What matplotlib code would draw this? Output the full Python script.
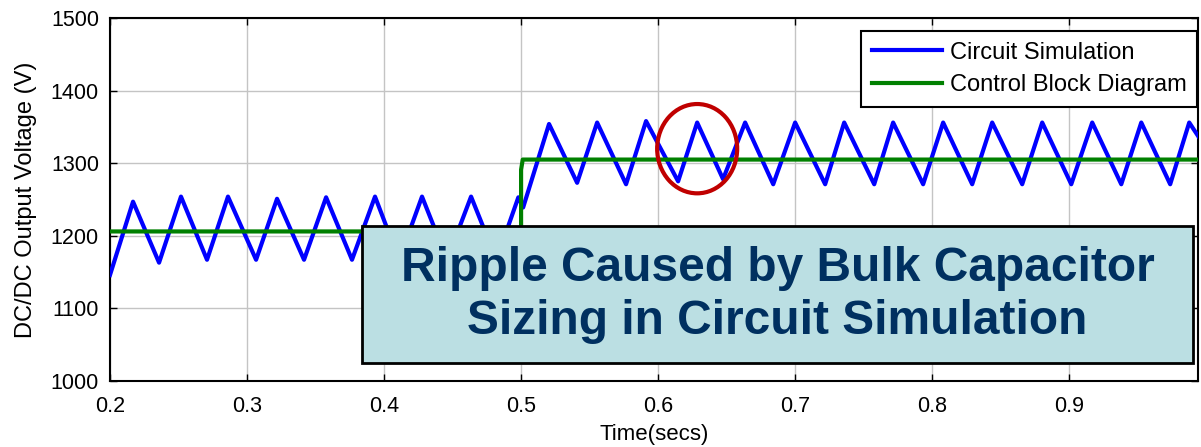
import numpy as np
import matplotlib
matplotlib.use("Agg")
import matplotlib.pyplot as plt
from matplotlib.patches import Ellipse, Rectangle

plt.rcParams['font.family'] = ['Liberation Sans', 'DejaVu Sans']

# vertices of the circuit simulation trace
sim_t = [0.2, 0.2168, 0.2358, 0.2518, 0.2708, 0.2861, 0.3066, 0.3219, 0.3416, 0.3577,
         0.3766, 0.3934, 0.4110, 0.4277, 0.4460, 0.4635, 0.4820, 0.4980, 0.5015, 0.5204,
         0.5409, 0.5555, 0.5766, 0.5912, 0.6146, 0.6285, 0.6474, 0.6635, 0.6840, 0.7000,
         0.7219, 0.7358, 0.7577, 0.7715, 0.7934, 0.8080, 0.8292, 0.8438, 0.8657, 0.8803,
         0.9015, 0.9168, 0.9380, 0.9526, 0.9737, 0.9876, 0.9956]
sim_v = [1146, 1247, 1163, 1254, 1167, 1254, 1167, 1251, 1167, 1253,
         1167, 1254, 1167, 1254, 1167, 1254, 1167, 1253, 1239, 1354,
         1273, 1356, 1271, 1358, 1275, 1356, 1278, 1356, 1271, 1356,
         1271, 1356, 1271, 1356, 1271, 1356, 1271, 1356, 1271, 1356,
         1271, 1356, 1271, 1356, 1271, 1356, 1333]

# control block diagram output
ctl_t = [0.2, 0.5, 0.5, 0.5012, 0.9956]
ctl_v = [1206, 1206, 1291, 1305, 1305]

x_ticks = [0.2, 0.3, 0.4, 0.5, 0.6, 0.7, 0.8, 0.9]
y_ticks = [1000, 1100, 1200, 1300, 1400, 1500]
labels = ['Circuit Simulation', 'Control Block Diagram']
note = 'Ripple Caused by Bulk Capacitor\nSizing in Circuit Simulation'

fig = plt.figure(figsize=(12.01, 4.47), dpi=100)
ax = fig.add_axes([110/1201, 1-381/447, 1088/1201, 363/447])

ax.plot(sim_t, sim_v, color='#0000FF', lw=3.0, label=labels[0], zorder=3)
ax.plot(ctl_t, ctl_v, color='#008000', lw=3.0, label=labels[1], zorder=4)

ax.set_xlim(0.2, 0.994)
ax.set_ylim(1000, 1500)
ax.set_xticks(x_ticks)
ax.set_yticks(y_ticks)
ax.set_xticklabels(['%g' % v for v in x_ticks])
ax.grid(True, color='#C4C4C4', lw=1.0)
ax.set_axisbelow(True)
ax.tick_params(direction='in', top=True, right=True, length=5, width=1,
               labelsize=15.5, pad=8)
ax.tick_params(axis='x', pad=10.5)
for s in ax.spines.values():
    s.set_linewidth(1.5)

ax.set_xlabel('Time(secs)', fontsize=16, labelpad=5)
ax.set_ylabel('DC/DC Output Voltage (V)', fontsize=17, labelpad=10)

leg = ax.legend(loc='upper right', bbox_to_anchor=(0.999, 0.964), borderaxespad=0,
                fontsize=17, handlelength=3.0, handletextpad=0.3, labelspacing=0.45,
                borderpad=0.45, fancybox=False, framealpha=1, edgecolor='black')
leg.get_frame().set_linewidth(1.5)
leg.set_zorder(6)

# red circle around one ripple
ax.add_patch(Ellipse((0.6285, 1320), 0.0584, 123, fill=False,
                     edgecolor='#C00000', lw=3.0, zorder=5))

# annotation box
ax.add_patch(Rectangle((0.2316, 0.0496), 0.7638, 0.3774, transform=ax.transAxes,
                       facecolor='#BBDFE3', edgecolor='black', lw=2, zorder=7))
ax.text(0.6135, 0.236, note, transform=ax.transAxes, ha='center', va='center',
        fontsize=34.5, fontweight='bold', color='#003060', linespacing=1.22, zorder=8)

fig.savefig('out.png', dpi=100)
